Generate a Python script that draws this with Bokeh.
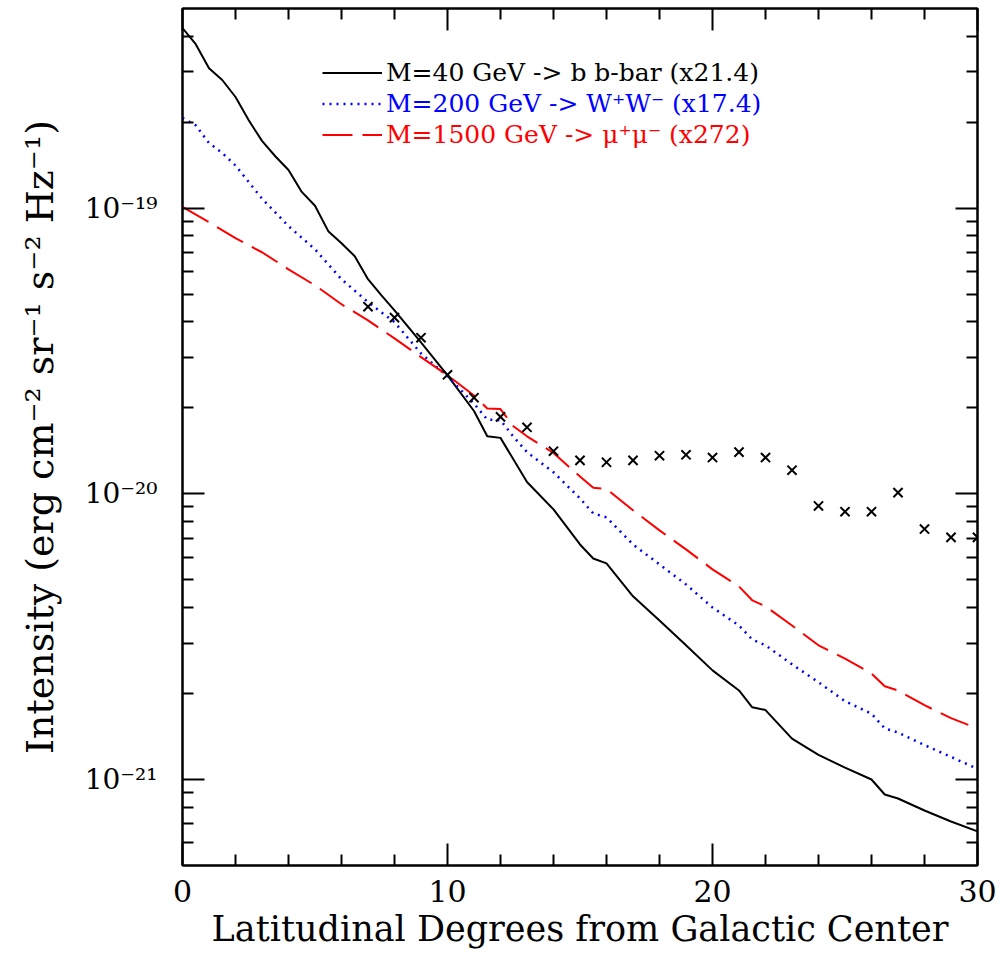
from bokeh.plotting import figure
from bokeh.models import Range1d, FixedTicker, LinearAxis, LogAxis, Legend, LegendItem
from bokeh.embed import file_html
from bokeh.resources import INLINE

# ---- data ----
deg_40 = [0, 0.5, 1, 1.5, 2, 2.5, 3, 3.5, 4, 4.5, 5, 5.5, 6, 6.5, 7, 7.5, 8, 9, 10, 11, 11.5, 12,
          13, 14, 15, 15.5, 16, 17, 18, 19, 20, 21, 21.5, 22, 23, 24, 25, 26, 26.5, 27, 28, 29, 30]
int_40 = [4.27e-19, 3.75e-19, 3.09e-19, 2.81e-19, 2.45e-19, 2.03e-19, 1.72e-19, 1.52e-19, 1.36e-19,
          1.14e-19, 1.02e-19, 8.31e-20, 7.54e-20, 6.79e-20, 5.64e-20, 4.96e-20, 4.39e-20, 3.39e-20,
          2.60e-20, 1.95e-20, 1.59e-20, 1.57e-20, 1.10e-20, 8.82e-21, 6.65e-21, 5.94e-21, 5.71e-21,
          4.38e-21, 3.60e-21, 2.95e-21, 2.41e-21, 2.05e-21, 1.79e-21, 1.75e-21, 1.39e-21, 1.22e-21,
          1.10e-21, 1.00e-21, 8.86e-22, 8.58e-22, 7.79e-22, 7.13e-22, 6.58e-22]

deg_200 = [0, 0.5, 1, 1.5, 2, 3, 4, 5, 6, 7, 8, 9, 10, 11, 11.5, 12, 12.5, 13, 14, 15, 15.5, 16,
           17, 18, 19, 20, 21, 21.5, 22, 23, 24, 25, 26, 26.5, 27, 28, 29, 30]
int_200 = [2.07e-19, 1.95e-19, 1.69e-19, 1.56e-19, 1.41e-19, 1.08e-19, 8.65e-20, 7.18e-20, 5.64e-20,
           4.69e-20, 3.99e-20, 3.10e-20, 2.58e-20, 2.07e-20, 1.82e-20, 1.81e-20, 1.58e-20, 1.40e-20,
           1.19e-20, 9.64e-21, 8.54e-21, 8.27e-21, 6.65e-21, 5.66e-21, 4.82e-21, 4.00e-21, 3.46e-21,
           3.09e-21, 2.95e-21, 2.53e-21, 2.19e-21, 1.88e-21, 1.70e-21, 1.51e-21, 1.46e-21, 1.32e-21,
           1.20e-21, 1.09e-21]

deg_1500 = [0, 1, 2, 3, 4, 5, 6, 7, 8, 9, 10, 11, 11.5, 12, 12.5, 13, 14, 15, 15.5, 16, 17, 18, 19,
            20, 21, 21.5, 22, 23, 24, 25, 26, 26.5, 27, 28, 29, 30]
int_1500 = [1.01e-19, 8.93e-20, 7.85e-20, 7.01e-20, 6.11e-20, 5.37e-20, 4.61e-20, 4.05e-20, 3.50e-20,
            3.01e-20, 2.60e-20, 2.21e-20, 1.99e-20, 1.98e-20, 1.72e-20, 1.59e-20, 1.39e-20, 1.15e-20,
            1.05e-20, 1.04e-20, 8.76e-21, 7.45e-21, 6.39e-21, 5.44e-21, 4.74e-21, 4.24e-21, 4.04e-21,
            3.46e-21, 2.95e-21, 2.65e-21, 2.35e-21, 2.12e-21, 2.05e-21, 1.82e-21, 1.64e-21, 1.51e-21]

obs_deg = [7, 8, 9, 10, 11, 12, 13, 14, 15, 16, 17, 18, 19, 20, 21, 22, 23, 24, 25, 26, 27, 28, 29, 30]
obs_int = [4.52e-20, 4.14e-20, 3.52e-20, 2.61e-20, 2.17e-20, 1.86e-20, 1.71e-20, 1.41e-20, 1.31e-20,
           1.29e-20, 1.31e-20, 1.36e-20, 1.37e-20, 1.34e-20, 1.40e-20, 1.34e-20, 1.21e-20, 9.07e-21,
           8.66e-21, 8.66e-21, 1.01e-20, 7.53e-21, 7.04e-21, 7.04e-21]

labels = ["M=40 GeV -> b b-bar (x21.4)",
          "M=200 GeV -> W\u207aW\u207b (x17.4)",
          "M=1500 GeV -> \u03bc\u207a\u03bc\u207b (x272)"]

x_major = [0, 10, 20, 30]
x_minor = [2, 4, 6, 8, 12, 14, 16, 18, 22, 24, 26, 28]
y_major = [1e-21, 1e-20, 1e-19]
y_minor = [6e-22, 7e-22, 8e-22, 9e-22,
           2e-21, 3e-21, 4e-21, 5e-21, 6e-21, 7e-21, 8e-21, 9e-21,
           2e-20, 3e-20, 4e-20, 5e-20, 6e-20, 7e-20, 8e-20, 9e-20,
           2e-19, 3e-19, 4e-19]
y_tick_text = {1e-21: "10\u207b\u00b2\u00b9", 1e-20: "10\u207b\u00b2\u2070", 1e-19: "10\u207b\u00b9\u2079"}

FONT = "DejaVu Serif"

p = figure(width=1004, height=960, x_range=Range1d(0, 30), y_range=Range1d(5e-22, 5e-19),
           y_axis_type="log", output_backend="svg", toolbar_location=None,
           min_border_left=182, min_border_right=27, min_border_top=8, min_border_bottom=95)
p.grid.visible = False
p.outline_line_color = "black"
p.outline_line_width = 2
p.background_fill_color = "white"
p.border_fill_color = "white"


def style(ax, show_labels):
    ax.major_tick_in = 22
    ax.major_tick_out = 0
    ax.minor_tick_in = 11
    ax.minor_tick_out = 0
    ax.major_tick_line_width = 2
    ax.minor_tick_line_width = 2
    ax.major_tick_line_color = "black"
    ax.minor_tick_line_color = "black"
    ax.axis_line_width = 2
    ax.axis_line_color = "black"
    if not show_labels:
        ax.major_label_text_font_size = "1px"
        ax.major_label_text_color = None
        ax.major_label_standoff = 0


xa = p.xaxis[0]
xa.ticker = FixedTicker(ticks=x_major, minor_ticks=x_minor)
style(xa, True)
xa.major_label_text_font = FONT
xa.major_label_text_font_size = "30px"
xa.major_label_text_color = "black"
xa.major_label_standoff = 14
xa.axis_label = "Latitudinal Degrees from Galactic Center"
xa.axis_label_text_font = FONT
xa.axis_label_text_font_size = "35px"
xa.axis_label_text_font_style = "normal"
xa.axis_label_text_color = "black"
xa.axis_label_standoff = 4

ya = p.yaxis[0]
ya.ticker = FixedTicker(ticks=y_major, minor_ticks=y_minor)
style(ya, True)
ya.major_label_overrides = y_tick_text
ya.major_label_text_font = FONT
ya.major_label_text_font_size = "28px"
ya.major_label_text_color = "black"
ya.major_label_standoff = 25
ya.axis_label = "Intensity (erg cm\u207b\u00b2 sr\u207b\u00b9 s\u207b\u00b2 Hz\u207b\u00b9)"
ya.axis_label_text_font = FONT
ya.axis_label_text_font_size = "38px"
ya.axis_label_text_font_style = "normal"
ya.axis_label_text_color = "black"
ya.axis_label_standoff = 20

top = LinearAxis(ticker=FixedTicker(ticks=x_major, minor_ticks=x_minor))
style(top, False)
p.add_layout(top, "above")
right = LogAxis(ticker=FixedTicker(ticks=y_major, minor_ticks=y_minor))
style(right, False)
p.add_layout(right, "right")

r40 = p.line(deg_40, int_40, line_color="black", line_width=2)
r200 = p.line(deg_200, int_200, line_color="blue", line_width=2.5, line_dash="2 5")
r1500 = p.line(deg_1500, int_1500, line_color="red", line_width=2, line_dash="30 10")
p.scatter(obs_deg, obs_int, marker="x", size=13, line_color="black", line_width=2)

colors = ["black", "blue", "red"]
rends = [r40, r200, r1500]
ys = [778, 747, 716]
for lab, col, rr, yy in zip(labels, colors, rends, ys):
    lg = Legend(items=[LegendItem(label=lab, renderers=[rr])], location=(140, yy),
                label_text_color=col, label_text_font=FONT, label_text_font_size="25px",
                glyph_width=60, glyph_height=25, label_height=25, label_standoff=4,
                padding=0, spacing=0,
                border_line_alpha=0, background_fill_alpha=0)
    p.add_layout(lg)

open("out.html", "w").write(file_html(p, INLINE))
